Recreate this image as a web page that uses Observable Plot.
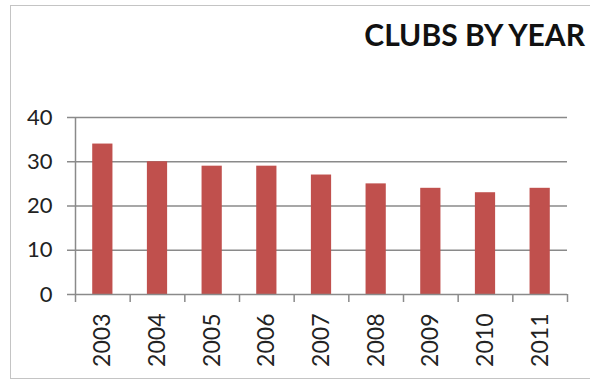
<!DOCTYPE html>
<html>
<head>
<meta charset="utf-8">
<script src="https://cdn.jsdelivr.net/npm/d3@7"></script>
<script src="https://cdn.jsdelivr.net/npm/@observablehq/plot@0.6"></script>
<style>
  html, body { margin: 0; padding: 0; background: #fff; }
  #wrap { position: relative; width: 590px; height: 382px; overflow: hidden; }
  #frame { position: absolute; left: 10px; top: 5px; width: 620px; height: 374px; border: 1.5px solid #c4c4c4; box-sizing: border-box; }
  #title { position: absolute; right: 5px; top: 18px; font-family: Lato, sans-serif; font-weight: 700; font-size: 30px; line-height: 32px; color: #111; white-space: nowrap; }
  #chart { position: absolute; left: 0; top: 0; }
</style>
</head>
<body>
<div id="wrap">
  <div id="frame"></div>
  <div id="chart"></div>
  <div id="title">CLUBS BY YEAR</div>
</div>
<script>
const titleText = "CLUBS BY YEAR";
const years = [2003, 2004, 2005, 2006, 2007, 2008, 2009, 2010, 2011];
const clubs = [34, 30, 29, 29, 27, 25, 24, 23, 24];
const yTicks = [0, 10, 20, 30, 40];

document.getElementById("title").textContent = titleText;

const data = years.map((year, i) => ({year, value: clubs[i]}));
const halfBar = 0.185;                       // half bar width, in category units
const xDomain = [years[0] - 0.5, years[years.length - 1] + 0.5];
const boundaries = d3.range(xDomain[0], xDomain[1] + 0.01, 1);

const gray = "#8a8a8a";
const chart = Plot.plot({
  width: 590,
  height: 382,
  marginLeft: 75,
  marginRight: 23,
  marginTop: 117,
  marginBottom: 88,
  style: {background: "transparent", fontFamily: "Lato, sans-serif", color: "#222", overflow: "visible"},
  x: {type: "linear", domain: xDomain, axis: null, label: null},
  y: {domain: [0, 40], axis: null, label: null},
  marks: [
    Plot.gridY(yTicks.filter(d => d > 0), {stroke: gray, strokeOpacity: 1, strokeWidth: 1.5}),
    Plot.axisY(yTicks, {label: null, tickSize: 8, tickPadding: 15, stroke: gray, strokeWidth: 1.5, fontSize: 22, fill: "#222", tickFormat: d => String(d)}),
    Plot.ruleX([xDomain[0]], {y1: 0, y2: 40, stroke: gray, strokeWidth: 1.5}),
    Plot.rectY(data, {x1: d => d.year - halfBar, x2: d => d.year + halfBar, y: "value", fill: "#c0504d"}),
    Plot.ruleY([0], {stroke: gray, strokeWidth: 1.5}),
    Plot.axisX(boundaries, {label: null, tickSize: 8, stroke: gray, strokeWidth: 1.5, tickFormat: () => ""}),
    Plot.axisX(years, {label: null, tickSize: 0, tickRotate: -90, tickPadding: 19, fontSize: 23, fill: "#222", tickFormat: d => String(d)})
  ]
});
document.getElementById("chart").appendChild(chart);
</script>
</body>
</html>
